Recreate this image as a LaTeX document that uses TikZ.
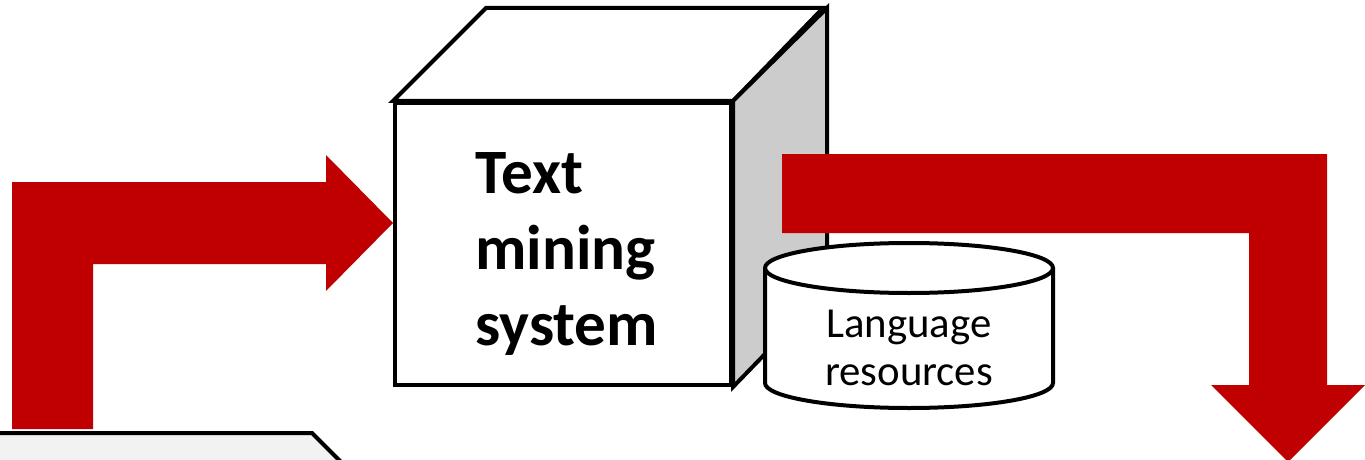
\documentclass[tikz,border=0pt]{standalone}
\usepackage{fontspec}
\setmainfont{Carlito}
\usetikzlibrary{positioning,calc}
\usepackage{xcolor}
\definecolor{flowcolor}{RGB}{192,0,0}
\definecolor{sidecolor}{RGB}{204,204,204}
\definecolor{doccolor}{RGB}{242,242,242}

\begin{document}
\begin{tikzpicture}[
    x=0.5pt, y=-0.5pt,
    edge/.style={draw=black, line width=2pt, line join=miter},
    face/.style={edge, fill=white},
    sideface/.style={edge, fill=sidecolor},
    docbox/.style={edge, fill=doccolor},
    flow/.style={fill=flowcolor, draw=none},
    bigtext/.style={font=\fontsize{31.6}{38}\selectfont\bfseries, align=left, inner sep=0pt},
    smalltext/.style={font=\fontsize{21.4}{24}\selectfont, align=center, inner sep=0pt}
]
\clip (0,0) rectangle (1365,460);

% Document (partly visible, bottom left)
\path[docbox] (-10,433) -- (312,433) -- (345,466) -- (-10,466) -- cycle;

% Cube
\node[face, minimum width=168pt, minimum height=141pt, inner sep=0pt] (cube) at (563,244) {};
\path[face] (cube.north west) -- ++(93,-93) -- ++(337,0) -- (cube.north east) -- cycle;
\path[sideface] (cube.north east) -- ++(94,-93) -- ++(0,282) -- (cube.south east) -- cycle;
\node[bigtext, anchor=north west] (tms) at (475,152) {Text\\mining\\system};

% Flow into the system
\coordinate (intip) at (cube.west |- 0,223);
\path[flow] (12,429) -- (12,182) -- (326,182) -- (326,155) -- (intip) -- (326,291)
    -- (326,264) -- (93,264) -- (93,429) -- cycle;

% Flow out of the system
\coordinate (outtip) at (1288,462);
\path[flow] (782,154) -- (1327,154) -- (1327,385) -- (1365,385) -- (outtip)
    -- (1211,385) -- (1249,385) -- (1249,233) -- (782,233) -- cycle;

% Language resources
\path[face] (765,268) -- (765,383) arc[start angle=180, end angle=0, x radius=144, y radius=25]
    -- (1053,268) arc[start angle=0, end angle=-180, x radius=144, y radius=25] -- cycle;
\draw[edge] (765,268) arc[start angle=180, end angle=0, x radius=144, y radius=25];
\node[smalltext, anchor=north] (res) at (909,310) {Language\\resources};

\end{tikzpicture}
\end{document}
